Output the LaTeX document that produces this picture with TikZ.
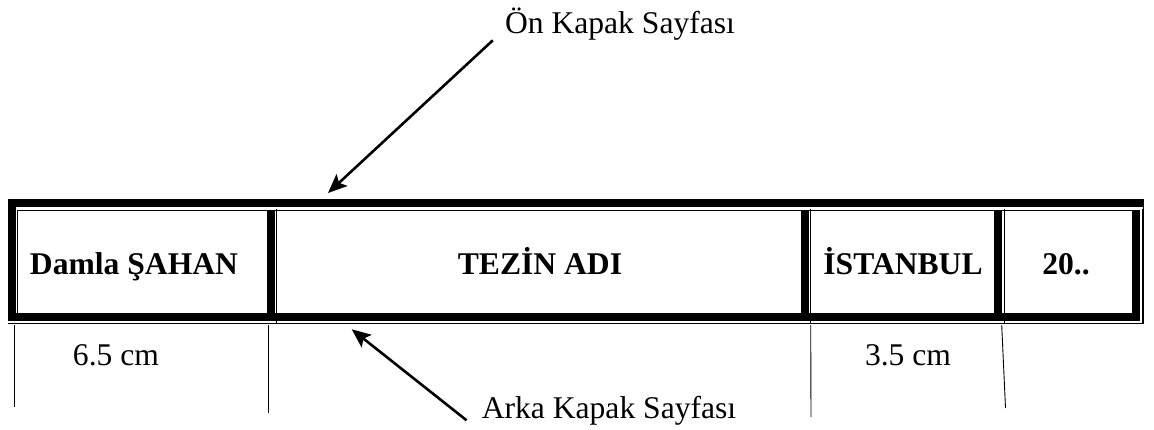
\documentclass[tikz,border=0pt]{standalone}
\usepackage{fontspec}
\setmainfont{Liberation Serif}
\usetikzlibrary{arrows.meta}
\begin{document}
\begin{tikzpicture}[x=1pt,y=-1pt,
		cellText/.style={font=\fontsize{31.6}{38}\selectfont\bfseries, inner sep=0pt, anchor=base},
		capLabel/.style={font=\fontsize{31.6}{38}\selectfont, inner sep=0pt, anchor=base},
		pointer/.style={line width=2.6pt, -{Stealth[length=19pt,width=16pt,inset=4pt]}},
		thinRule/.style={line width=0.9pt}]
		\useasboundingbox (0,0) rectangle (1154,430);

		% Dis cerceve
		\fill[black] (8,199) rectangle (1143,207.5);
		\fill[black] (8,199) rectangle (15.5,321);
		\fill[black] (8,313) rectangle (1140,321);
		\draw[thinRule] (8,323.5) -- (1143,323.5) -- (1143,199);
		\draw[thinRule] (17.5,321) -- (17.5,210) -- (1140,210);

		% Hucre sinirlari
		\foreach \a/\b/\t in {267/275.3/276.7, 801/809.4/810.8, 993.5/1001.7/1004, 1131.7/1140/1142.7}{
			\fill[black] (\a,210) rectangle (\b,321);
			\draw[thinRule] (\t,209) -- (\t,323.5);
		}

		% Sirt yazilari
		\node[cellText] (yazar) at (134,274.5) {Damla ŞAHAN};
		\node[cellText] (baslik) at (540,274.5) {TEZİN ADI};
		\node[cellText] (sehir) at (903,274.5) {İSTANBUL};
		\node[cellText] (yil) at (1066,274.5) {20..};

		% Olculer
		\foreach \x/\y/\z/\w in {14/407/14/325, 268/413/268/325, 811/417/810.7/325, 1005.5/408/1001.7/325}
			\draw[thinRule] (\z,\w) -- (\x,\y);
		\node[capLabel] (olcuA) at (116,365) {6.5 cm};
		\node[capLabel] (olcuB) at (908,365) {3.5 cm};

		% Kapak etiketleri
		\node[capLabel] (onKapak) at (620,33.3) {Ön Kapak Sayfası};
		\node[capLabel] (arkaKapak) at (609,418.3) {Arka Kapak Sayfası};
		\coordinate (onUc) at (328,193);
		\coordinate (arkaUc) at (351.7,329.3);
		\draw[pointer] ([xshift=-12pt,yshift=-7pt]onKapak.base west) -- (onUc);
		\draw[pointer] ([xshift=-15pt,yshift=-2pt]arkaKapak.base west) -- (arkaUc);
	\end{tikzpicture}
\end{document}
